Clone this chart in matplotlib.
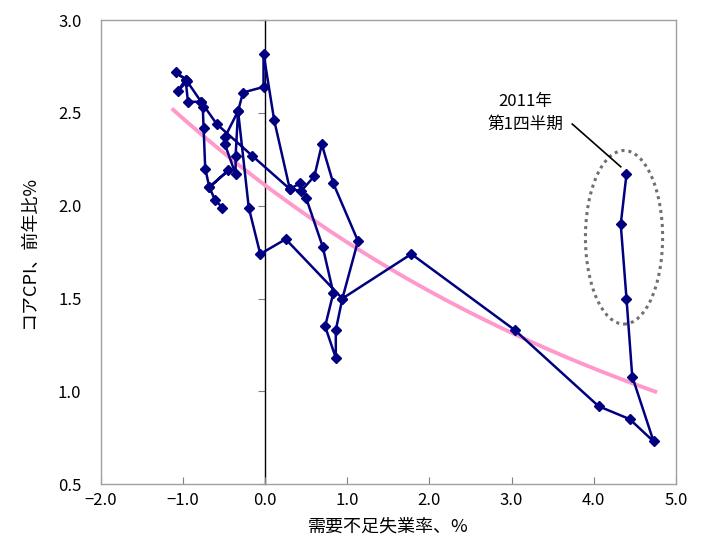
import matplotlib

matplotlib.use("Agg")
import matplotlib.pyplot as plt
import numpy as np
from matplotlib.patches import Ellipse

plt.rcParams["font.family"] = ["Noto Sans CJK JP", "DejaVu Sans"]

# 需要不足失業率（x）とコアCPI前年比（y）、線でつないだ順
gap = [-0.52, -0.61, -0.68, -0.45, -0.68, -0.73, -0.75, -0.76, -0.78, -0.94,
       -0.97, -1.09, -0.97, -1.06, -0.95, -0.78, -0.59, -0.16, 0.30, 0.42,
       0.50, 0.70, 0.83, 0.73, 0.86, 0.86, 0.94, 1.13, 0.83, 0.69,
       0.60, 0.44, 0.30, 0.11, -0.02, -0.02, -0.27, -0.33, -0.49, -0.49,
       -0.36, -0.36, -0.33, -0.20, -0.06, 0.25, 0.94, 1.78, 3.04, 4.06,
       4.44, 4.73, 4.47, 4.40, 4.33, 4.40]
cpi = [1.99, 2.03, 2.10, 2.19, 2.10, 2.20, 2.42, 2.53, 2.56, 2.56,
       2.68, 2.72, 2.68, 2.62, 2.67, 2.56, 2.44, 2.27, 2.09, 2.12,
       2.04, 1.78, 1.53, 1.35, 1.18, 1.33, 1.50, 1.81, 2.12, 2.33,
       2.16, 2.08, 2.09, 2.46, 2.82, 2.64, 2.61, 2.51, 2.37, 2.33,
       2.17, 2.27, 2.51, 1.99, 1.74, 1.82, 1.50, 1.74, 1.33, 0.92,
       0.85, 0.73, 1.08, 1.50, 1.90, 2.17]

# 指数近似曲線 y = a * exp(b * x)（図から読み取った係数）
TREND_A = 2.11
TREND_B = -0.1575
TREND_RANGE = (-1.12, 4.75)

X_LIM = (-2.0, 5.0)
Y_LIM = (0.5, 3.0)
X_TICKS = [-2.0, -1.0, 0.0, 1.0, 2.0, 3.0, 4.0, 5.0]
Y_TICKS = [0.5, 1.0, 1.5, 2.0, 2.5, 3.0]

NAVY = "#000080"
PINK = "#ff99cc"

fig = plt.figure(figsize=(7.01, 5.44), dpi=100)
ax = fig.add_axes([0.144, 0.110, 0.820, 0.853])

xs = np.linspace(*TREND_RANGE, 200)
ax.plot(xs, TREND_A * np.exp(TREND_B * xs), color=PINK, lw=2.8, zorder=2)

ax.plot(gap, cpi, color=NAVY, lw=1.8, marker="D", markersize=5.5,
        markeredgecolor=NAVY, zorder=3)

# 2011年の点を囲む点線の楕円
ax.add_patch(Ellipse((4.37, 1.83), 0.94, 0.935, fill=False, edgecolor="#707070",
                     lw=2.2, linestyle=(0, (1, 1.3)), zorder=4))
ax.plot([3.74, 4.33], [2.44, 2.21], color="black", lw=1.2, zorder=4)
ax.text(3.17, 2.50, "2011年\n第1四半期", ha="center", va="center",
        fontsize=12, linespacing=1.5)

ax.set_xlim(*X_LIM)
ax.set_ylim(*Y_LIM)
ax.set_xticks(X_TICKS)
ax.set_yticks(Y_TICKS)
ax.set_xticklabels([f"{v:.1f}".replace("-", "\u2212") for v in X_TICKS])
ax.set_yticklabels([f"{v:.1f}" for v in Y_TICKS])
ax.tick_params(axis="x", direction="in", length=5, color="#808080",
               labelsize=12, pad=6)
ax.tick_params(axis="y", length=0, labelsize=12, pad=14)
for s in ax.spines.values():
    s.set_color("#a0a0a0")
    s.set_linewidth(1.0)

# x=0 の縦軸（目盛は左向き）
zero_pos = (0 - X_LIM[0]) / (X_LIM[1] - X_LIM[0])
sec = ax.secondary_yaxis(zero_pos)
sec.set_yticks(Y_TICKS)
sec.tick_params(direction="out", length=5, color="#808080", labelleft=False)
sec.spines["left"].set_color("black")
sec.spines["left"].set_linewidth(1.0)

ax.set_xlabel("需要不足失業率、%", fontsize=13, labelpad=6)
ax.set_ylabel("コアCPI、前年比%", fontsize=13, labelpad=14)

fig.savefig("out.png", dpi=100)
